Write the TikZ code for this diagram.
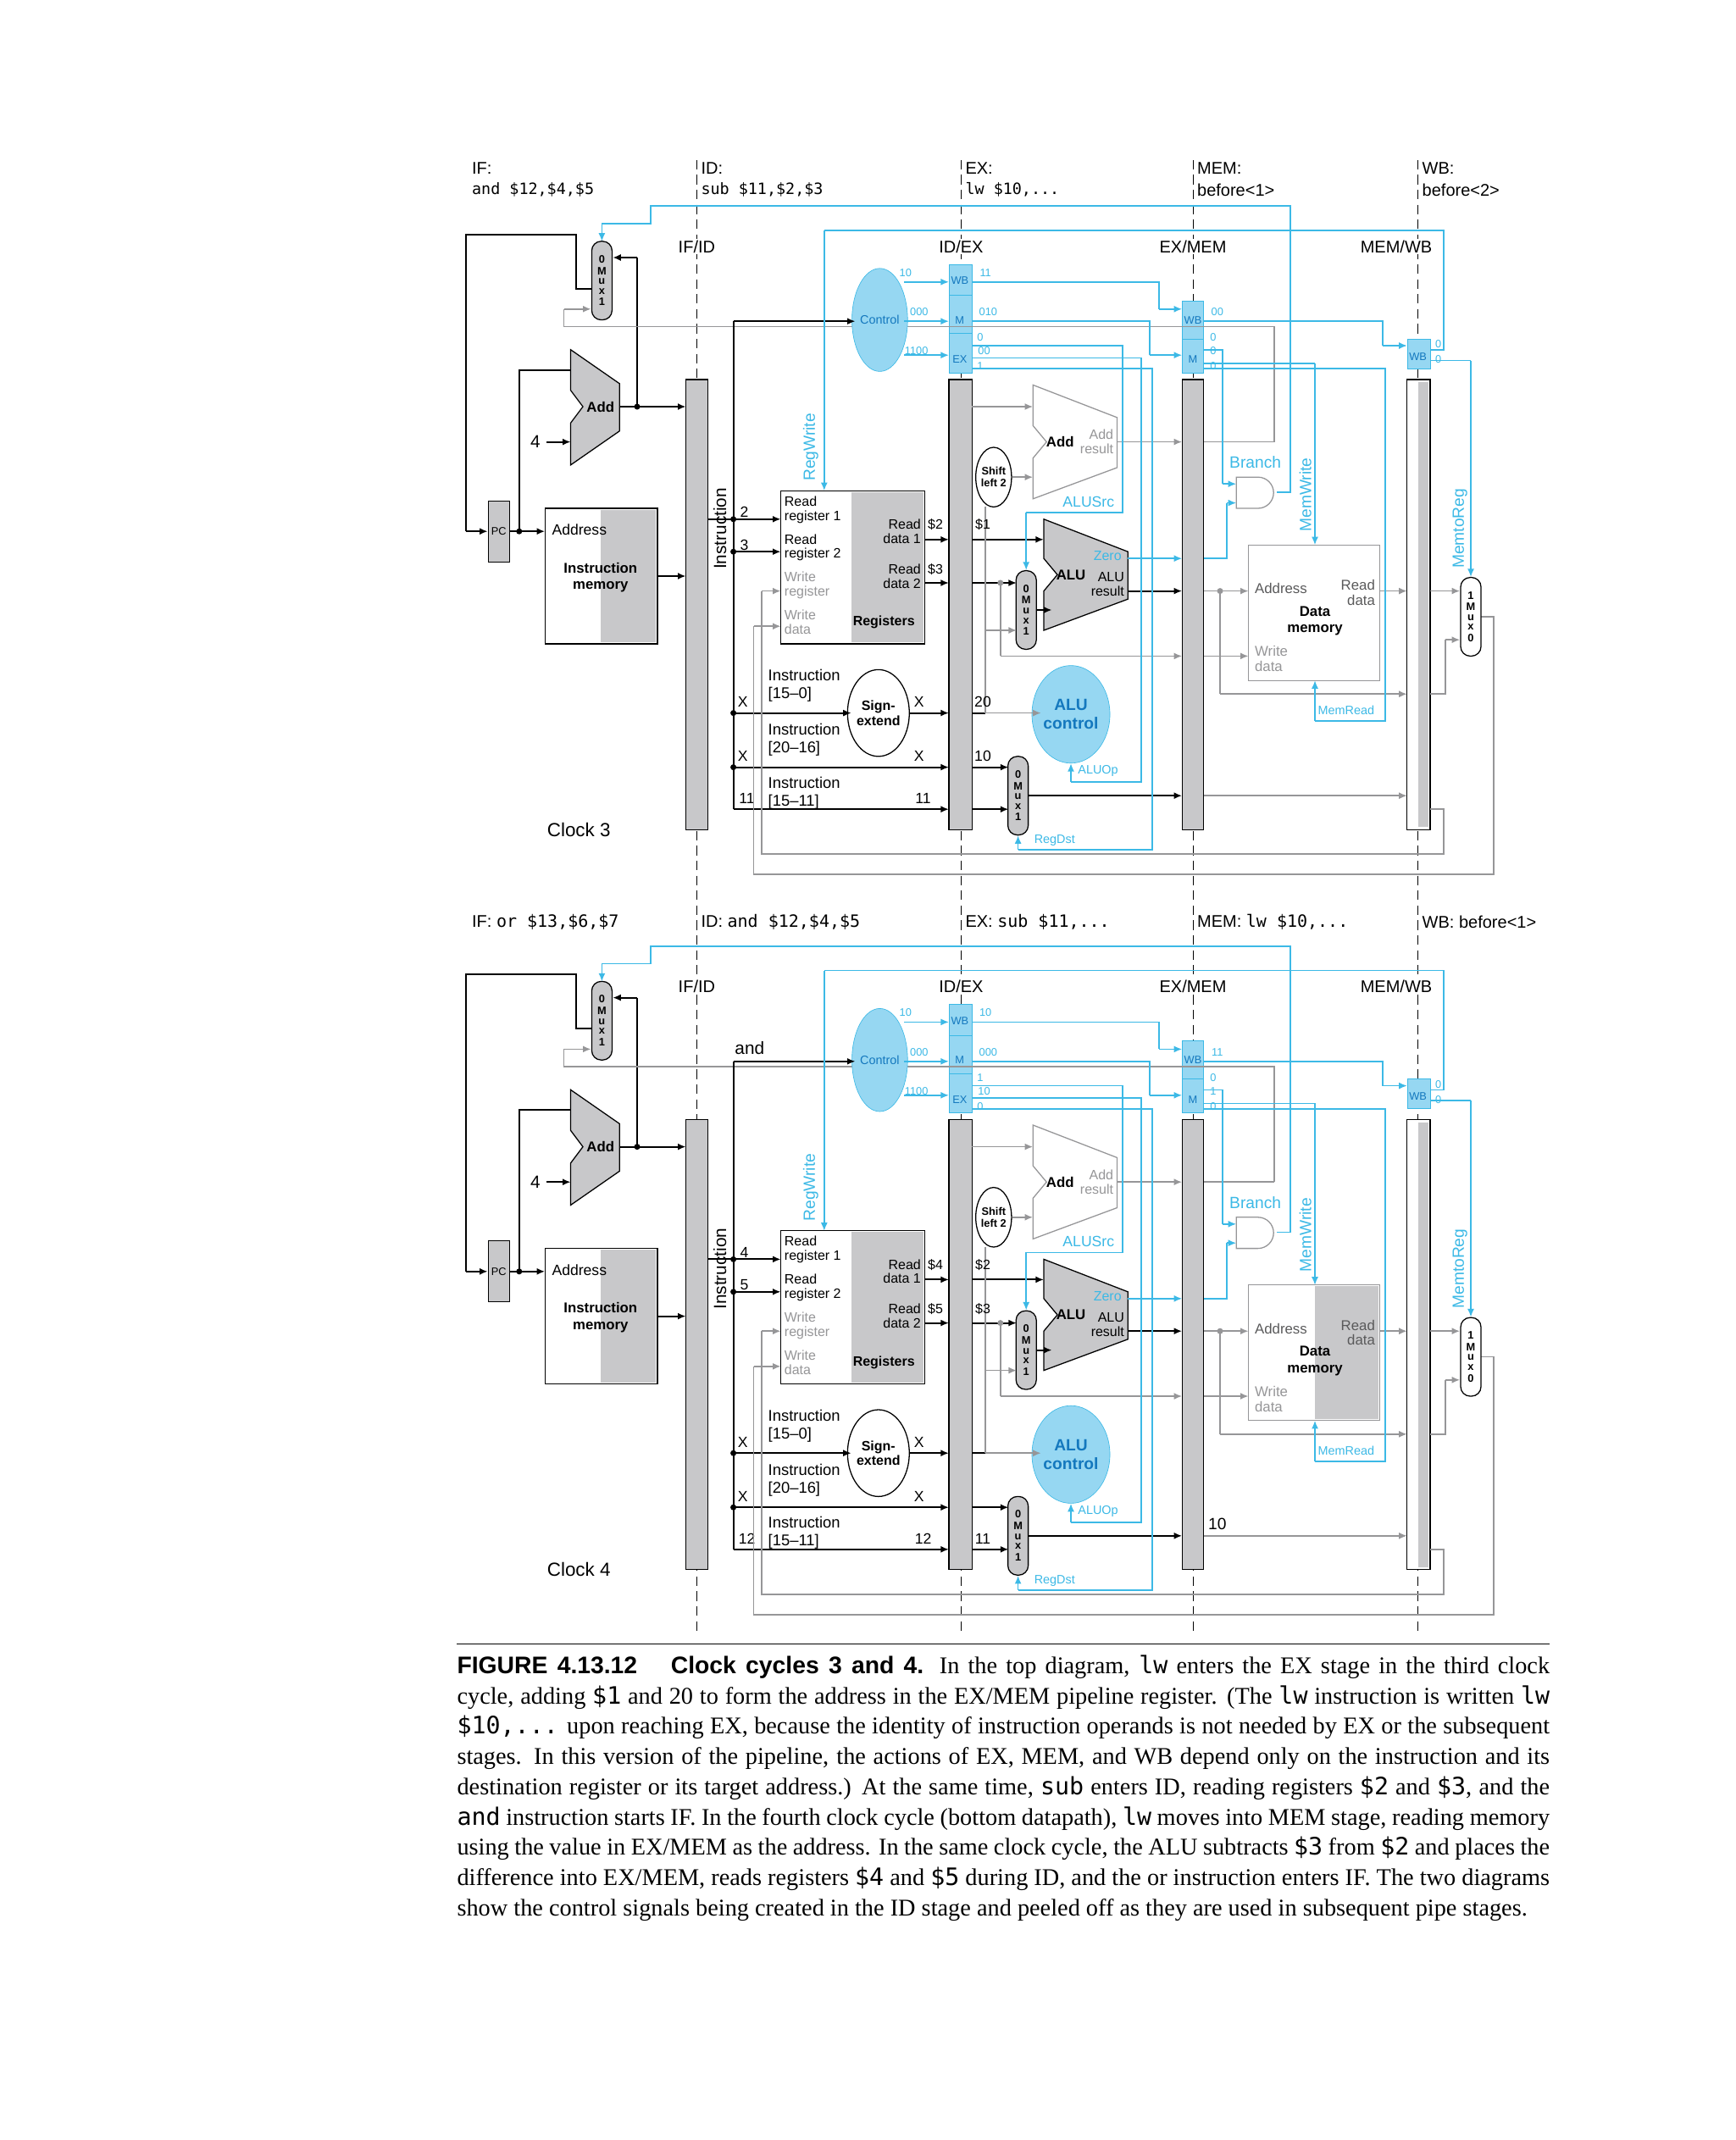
\documentclass[tikz,border=0pt]{standalone}
\usepackage{fontspec}
\setmainfont{Liberation Serif}
\setsansfont{Liberation Sans}
\setmonofont{DejaVu Sans Mono}
\usetikzlibrary{arrows.meta,shapes.geometric}
\definecolor{cy}{RGB}{60,185,230}
\definecolor{cyl}{RGB}{150,215,242}
\definecolor{cyt}{RGB}{20,120,190}
\definecolor{gf}{RGB}{200,200,202}
\definecolor{gl}{RGB}{150,150,152}
\tikzset{
 bw/.style={line width=1.3pt,-{Latex[length=6pt,width=5pt]}},
 bl/.style={line width=1.3pt},
 gw/.style={line width=1.1pt,gl,-{Latex[length=6pt,width=5pt]}},
 gln/.style={line width=1.1pt,gl},
 cw/.style={line width=1pt,cy,-{Latex[length=6pt,width=5pt]}},
 cln/.style={line width=1pt,cy},
 lab/.style={font=\sffamily\fontsize{11}{12}\selectfont,inner sep=1pt},
 sl/.style={font=\sffamily\fontsize{8}{9}\selectfont,inner sep=0.5pt},
 cl/.style={font=\sffamily\fontsize{8}{9}\selectfont,inner sep=0.5pt,cy},
 muxs/.style={draw,fill=gf,rounded corners=7pt,minimum width=15pt,minimum height=58pt,inner sep=0pt,font=\sffamily\bfseries\fontsize{8}{8.5}\selectfont,line width=0.8pt},
 stg/.style={font=\sffamily\fontsize{12.5}{14}\selectfont,anchor=west,inner sep=0pt},
 pr/.style={font=\sffamily\fontsize{12.5}{14}\selectfont,inner sep=0pt},
}
\newcommand\muxnode[4]{\node[muxs] (#1) at (#2) {\shortstack{#3\\M\\u\\x\\#4}};}
\newcommand\panel{%
 \node[pr,fill=white,inner sep=1pt] (pifid) at (514,182) {IF/ID};
 \node[pr,fill=white,inner sep=1pt] (pidex) at (709,182) {ID/EX};
 \node[pr,fill=white,inner sep=1pt] (pexm) at (880,182) {EX/MEM};
 \node[pr,fill=white,inner sep=1pt] (pmwb) at (1030,182) {MEM/WB};
 \draw[fill=gf,line width=0.8pt] (506,280) rectangle (522,612);
 \draw[fill=gf,line width=0.8pt] (700,280) rectangle (717,612);
 \draw[fill=gf,line width=0.8pt] (872,280) rectangle (888,612);
 \draw[fill=white,line width=0.8pt] (1038,280) rectangle (1055,612);
 \fill[gf] (1046,282) rectangle (1054,610);
 \draw[fill=cyl,draw=cy] (700,195) rectangle (717,275);
 \draw[cy] (700,218)--(717,218) (700,246)--(717,246);
 \node[sl,cyt] at (708,207) {WB}; \node[sl,cyt] at (708,236) {M}; \node[sl,cyt] at (708,265) {EX};
 \draw[fill=cyl,draw=cy] (872,222) rectangle (888,275);
 \draw[cy] (872,250)--(888,250);
 \node[sl,cyt] at (880,236) {WB}; \node[sl,cyt] at (880,265) {M};
 \draw[fill=cyl,draw=cy] (1038,250) rectangle (1055,272);
 \node[sl,cyt] at (1046,263) {WB};
 \node[lab,rotate=90,font=\sffamily\fontsize{13}{14}\selectfont] (instrlab) at (531,390) {Instruction};
 \node[draw,fill=gf,minimum width=16pt,minimum height=45pt,inner sep=0pt,font=\sffamily\fontsize{8}{9}\selectfont] (pc) at (368,392) {PC};
 \draw[line width=0.8pt] (402,375) rectangle (485,475);
 \fill[gf] (443,376) rectangle (484,474);
 \node[lab,anchor=west] (imaddr) at (406,391) {Address};
 \node[lab,font=\sffamily\bfseries\fontsize{10.5}{12}\selectfont,align=center] (im) at (443,426) {Instruction\\memory};
 \draw[fill=gf,line width=0.8pt] (421,258)--(457,283)--(457,318)--(421,343)--(421,312)--(430,300)--(421,288)--cycle;
 \node[lab,font=\sffamily\bfseries\fontsize{10.5}{12}\selectfont] (ifadd) at (443,300) {Add};
 \node[lab,font=\sffamily\fontsize{13}{14}\selectfont] (four) at (395,326) {4};
 \muxnode{ifmux}{444,207}{0}{1}
 \draw[bw] (pc.east)--(402,392);
 \draw[bl] (383,392)--(383,273)--(421,273);
 \draw[bw] (403,326)--(421,326);
 \draw[bl] (436,213)--(425,213)--(425,173)--(344,173)--(344,392);
 \draw[bw] (344,392)--(pc.west);
 \draw[bw] (457,300)--(506,300);
 \draw[bl] (470,300)--(470,190);
 \draw[bw] (470,190)--(452,190);
 \fill (470,300) circle (2.2pt) (383,392) circle (2.2pt);
 \draw[gln] (940,326)--(940,241)--(416,241)--(416,228);
 \draw[gw] (416,228)--(436,228);
 \draw[cln] (942,363)--(952,363)--(952,152)--(480,152)--(480,165)--(444,165);
 \draw[cw] (444,165)--(444,178);
 \draw[bw] (485,425)--(506,425);
 \draw[line width=0.8pt] (576,362) rectangle (682,475);
 \fill[gf] (628,363) rectangle (681,474);
 \node[sl,anchor=west,align=left,font=\sffamily\fontsize{10}{10.5}\selectfont] at (578,376) {Read\\register 1};
 \node[sl,anchor=west,align=left,font=\sffamily\fontsize{10}{10.5}\selectfont] at (578,404) {Read\\register 2};
 \node[sl,anchor=west,align=left,font=\sffamily\fontsize{10}{10.5}\selectfont,gl] at (578,432) {Write\\register};
 \node[sl,anchor=west,align=left,font=\sffamily\fontsize{10}{10.5}\selectfont,gl] at (578,459) {Write\\data};
 \node[sl,anchor=east,align=right,font=\sffamily\fontsize{10}{10.5}\selectfont] at (680,392) {Read\\data 1};
 \node[sl,anchor=east,align=right,font=\sffamily\fontsize{10}{10.5}\selectfont] at (680,425) {Read\\data 2};
 \node[sl,font=\sffamily\bfseries\fontsize{10}{11}\selectfont] (regs) at (652,459) {Registers};
 \node[draw,ellipse,fill=white,minimum width=40pt,minimum height=64pt,inner sep=0pt,align=center,font=\sffamily\bfseries\fontsize{10}{11}\selectfont,line width=0.8pt] (se) at (648,526) {Sign-\\extend};
 \node[draw=cy,ellipse,fill=cyl,minimum width=36pt,minimum height=76pt,inner sep=0pt,font=\sffamily\fontsize{9}{10}\selectfont,text=cyt] (ctrl) at (649,236) {Control};
 \draw[bl] (522,383)--(541,383);
 \draw[bl] (541,237)--(541,597);
 \draw[bw] (541,237)--(631,237);
 \draw[bw] (541,383)--(576,383);
 \draw[bw] (541,407)--(576,407);
 \draw[bw] (541,526)--(628,526);
 \draw[bw] (541,566)--(700,566);
 \draw[bw] (541,597)--(700,597);
 \foreach \yy in {383,407,526,566} \fill (541,\yy) circle (2.2pt);
 \node[sl,anchor=west,align=left,font=\sffamily\fontsize{11.5}{13}\selectfont] at (566,506) {Instruction\\{}[15--0]};
 \node[sl,anchor=west,align=left,font=\sffamily\fontsize{11.5}{13}\selectfont] at (566,546) {Instruction\\{}[20--16]};
 \node[sl,anchor=west,align=left,font=\sffamily\fontsize{11.5}{13}\selectfont] at (566,585) {Instruction\\{}[15--11]};
 \node[lab] at (549,378) {\rA}; \node[lab] at (549,402) {\rB};
 \node[lab] at (548,518) {X}; \node[lab] at (548,558) {X}; \node[lab] at (551,589) {\rC};
 \node[lab] at (678,518) {X}; \node[lab] at (678,558) {X}; \node[lab] at (681,589) {\rC};
 \draw[bw] (682,398)--(700,398); \draw[bw] (682,430)--(700,430);
 \draw[bw] (se.east)--(700,526);
 \node[sl,font=\sffamily\fontsize{10}{11}\selectfont] at (690,387) {\dA};
 \node[sl,font=\sffamily\fontsize{10}{11}\selectfont] at (690,420) {\dB};
 \draw[gln] (1092,455)--(1102,455)--(1102,645)--(556,645)--(556,462);
 \draw[gw] (556,462)--(576,462);
 \draw[gln] (1055,597)--(1065,597)--(1065,630)--(562,630)--(562,436);
 \draw[gw] (562,436)--(576,436);
 \draw[cw] (667,208)--(700,208); \draw[cw] (667,237)--(700,237); \draw[cw] (667,262)--(700,262);
 \node[cl] at (668,201) {10}; \node[cl] at (678,230) {000}; \node[cl] at (676,259) {1100};
 \node[lab,font=\sffamily\fontsize{12}{13}\selectfont,rotate=90,cy] at (598,330) {RegWrite};
 \draw[cln] (1055,258)--(1065,258)--(1065,170)--(608,170);
 \draw[cw] (608,170)--(608,362);
 \node[draw,ellipse,fill=white,minimum width=26pt,minimum height=44pt,inner sep=0pt,align=center,font=\sffamily\bfseries\fontsize{8}{9}\selectfont,line width=0.8pt] (sl2) at (733,352) {Shift\\left 2};
 \draw[fill=white,draw=gl,line width=0.8pt] (762,284)--(824,308)--(824,345)--(762,368)--(762,338)--(772,326)--(762,314)--cycle;
 \node[lab,font=\sffamily\bfseries\fontsize{10.5}{12}\selectfont] (exadd) at (782,326) {Add};
 \node[sl,align=right,anchor=east,gl,font=\sffamily\fontsize{10}{10.5}\selectfont] at (822,326) {Add\\result};
 \draw[fill=gf,line width=0.8pt] (770,383)--(832,407)--(832,442)--(770,465)--(770,436)--(780,424)--(770,412)--cycle;
 \node[lab,font=\sffamily\bfseries\fontsize{10.5}{12}\selectfont] (alu) at (790,424) {ALU};
 \node[sl,align=right,anchor=east,font=\sffamily\fontsize{10}{10.5}\selectfont] at (830,431) {ALU\\result};
 \node[sl,cy,font=\sffamily\fontsize{10}{10.5}\selectfont] at (817,410) {Zero};
 \muxnode{alumux}{757,450}{0}{1}
 \node[draw=cy,ellipse,fill=cyl,minimum width=44pt,minimum height=72pt,inner sep=0pt,align=center,font=\sffamily\bfseries\fontsize{12}{14}\selectfont,text=cyt] (aluc) at (790,527) {ALU\\control};
 \muxnode{rdmux}{751,587}{0}{1}
 \draw[gw] (717,300)--(762,300);
 \draw[bw] (717,398)--(770,398);
 \draw[bw] (717,430)--(750,430);
 \draw[gln] (738,430)--(738,484);
 \draw[gw] (738,484)--(872,484);
 \fill[gl] (738,430) circle (2.2pt);
 \draw[bl] (717,526)--(727,526);
 \draw[gln] (727,526)--(727,374);
 \draw[gw] (727,465)--(750,465);
 \draw[gw] (727,526)--(768,526);
 \draw[gw] (sl2.east)--(762,352);
 \draw[gw] (824,326)--(872,326);
 \draw[bw] (765,450)--(776,450);
 \draw[bw] (832,436)--(872,436);
 \draw[cw] (832,412)--(872,412);
 \draw[bw] (717,566)--(744,566);
 \draw[bw] (717,597)--(744,597);
 \draw[bw] (759,587)--(872,587);
 \node[sl,font=\sffamily\fontsize{10}{11}\selectfont] at (725,387) {\eA};
 \node[sl,font=\sffamily\fontsize{10}{11}\selectfont] at (725,420) {\eB};
 \node[lab] at (725,518) {\eC}; \node[lab] at (725,558) {\eD}; \node[lab] at (725,589) {\eE};
 \draw[cln] (717,208)--(855,208)--(855,228); \draw[cw] (855,228)--(872,228);
 \draw[cln] (717,237)--(848,237)--(848,262); \draw[cw] (848,262)--(872,262);
 \draw[cln] (717,255)--(828,255)--(828,378)--(757,378); \draw[cw] (757,378)--(alumux.north);
 \draw[cln] (717,264)--(842,264)--(842,577)--(790,577); \draw[cw] (790,577)--(aluc.south);
 \draw[cln] (717,272)--(850,272)--(850,627)--(751,627); \draw[cw] (751,627)--(rdmux.south);
 \node[cl] at (727,201) {\cA}; \node[cl] at (729,230) {\cB}; \node[cl] at (723,249) {\cC}; \node[cl] at (726,259) {\cD}; \node[cl] at (723,270) {\cE};
 \node[lab,cy] at (803,370) {ALUSrc};
 \node[sl,cy,font=\sffamily\fontsize{9}{10}\selectfont] at (810,569) {ALUOp};
 \node[sl,cy,font=\sffamily\fontsize{9}{10}\selectfont] at (778,620) {RegDst};
 \draw[line width=0.8pt,draw=gl] (921,402) rectangle (1018,502);
 \dmfill
 \node[sl,anchor=west,font=\sffamily\fontsize{10.5}{11}\selectfont,gl!60!black] at (925,434) {Address};
 \node[sl,align=right,anchor=east,font=\sffamily\fontsize{10.5}{11}\selectfont,gl!60!black] at (1015,437) {Read\\data};
 \node[sl,align=center,font=\sffamily\bfseries\fontsize{10.5}{12}\selectfont] (dm) at (970,458) {Data\\memory};
 \node[sl,align=left,anchor=west,gl,font=\sffamily\fontsize{10.5}{11}\selectfont] at (925,486) {Write\\data};
 \draw[fill=white,line width=0.8pt,draw=gl] (912,352)--(928,352) arc (-90:90:11.5)--(912,375)--cycle;
 \node[lab,cy,font=\sffamily\fontsize{12}{13}\selectfont] at (926,341) {Branch};
 \draw[gw] (888,436)--(921,436);
 \draw[gln] (900,436)--(900,512);
 \draw[gw] (900,512)--(1038,512);
 \fill[gl] (900,436) circle (2.2pt);
 \draw[gw] (888,484)--(921,484);
 \draw[gw] (888,587)--(1038,587);
 \draw[gw] (1018,436)--(1038,436);
 \draw[gln] (888,326)--(940,326);
 \draw[cln] (888,412)--(905,412)--(905,371); \draw[cw] (905,371)--(912,371);
 \draw[cln] (888,258)--(902,258)--(902,357); \draw[cw] (902,357)--(912,357);
 \draw[cln] (888,268)--(970,268); \draw[cw] (970,268)--(970,402);
 \draw[cln] (888,272)--(1022,272)--(1022,532)--(970,532); \draw[cw] (970,532)--(970,502);
 \node[lab,cy,rotate=90,font=\sffamily\fontsize{12}{13}\selectfont] at (963,365) {MemWrite};
 \node[sl,cy,font=\sffamily\fontsize{9}{10}\selectfont] at (993,524) {MemRead};
 \draw[cln] (888,237)--(1020,237)--(1020,255); \draw[cw] (1020,255)--(1038,255);
 \node[cl] at (898,230) {\mA}; \node[cl] at (895,249) {\mB}; \node[cl] at (895,259) {\mC}; \node[cl] at (895,270) {\mD};
 \node[cl] at (1061,254) {0}; \node[cl] at (1061,265) {0};
 \node[muxs,fill=white] (wbmux) at (1085,455) {\shortstack{1\\M\\u\\x\\0}};
 \draw[cln] (1055,266)--(1085,266); \draw[cw] (1085,266)--(wbmux.north);
 \node[lab,cy,rotate=90,font=\sffamily\fontsize{12}{13}\selectfont] at (1077,390) {MemtoReg};
 \draw[gw] (1055,436)--(1077,436);
 \draw[gln] (1055,512)--(1066,512)--(1066,472); \draw[gw] (1066,472)--(1077,472);
}
\begin{document}
\begin{tikzpicture}[x=1pt,y=-1pt]
\useasboundingbox (0,0) rectangle (1280,1578.75);
\fill[white] (0,0) rectangle (1280,1578.75);
\foreach \xx in {514,709,880,1046} \draw[dash pattern=on 7pt off 4pt,line width=0.6pt] (\xx,118)--(\xx,1205);
\node[stg] (h1) at (348,124) {IF:};
\node[stg,font=\ttfamily\fontsize{11.5}{13}\selectfont] at (348,140) {and \$12,\$4,\$5};
\node[stg] (h2) at (517,124) {ID:};
\node[stg,font=\ttfamily\fontsize{11.5}{13}\selectfont] at (517,140) {sub \$11,\$2,\$3};
\node[stg] (h3) at (712,124) {EX:};
\node[stg,font=\ttfamily\fontsize{11.5}{13}\selectfont] at (712,140) {lw \$10,...};
\node[stg] (h4) at (883,124) {MEM:};
\node[stg] at (883,140) {before<1>};
\node[stg] (h5) at (1049,124) {WB:};
\node[stg] at (1049,140) {before<2>};
\node[stg] (b1) at (348,680) {IF: {\ttfamily or \$13,\$6,\$7}};
\node[stg] (b2) at (517,680) {ID: {\ttfamily and \$12,\$4,\$5}};
\node[stg] (b3) at (712,680) {EX: {\ttfamily sub \$11,...}};
\node[stg] (b4) at (883,680) {MEM: {\ttfamily lw \$10,...}};
\node[stg] (b5) at (1049,680) {WB: before<1>};
\def\rA{2}\def\rB{3}\def\rC{11}\def\dA{\$2}\def\dB{\$3}
\def\eA{\$1}\def\eB{}\def\eC{20}\def\eD{10}\def\eE{}
\def\cA{11}\def\cB{010}\def\cC{0}\def\cD{00}\def\cE{1}
\def\mA{00}\def\mB{0}\def\mC{0}\def\mD{0}
\def\dmfill{}
\begin{scope}[name prefix=t-]
\panel
\node[lab,font=\sffamily\fontsize{14}{15}\selectfont] (clk3) at (427,612) {Clock 3};
\end{scope}
\def\rA{4}\def\rB{5}\def\rC{12}\def\dA{\$4}\def\dB{\$5}
\def\eA{\$2}\def\eB{\$3}\def\eC{}\def\eD{}\def\eE{11}
\def\cA{10}\def\cB{000}\def\cC{1}\def\cD{10}\def\cE{0}
\def\mA{11}\def\mB{0}\def\mC{1}\def\mD{0}
\def\dmfill{\fill[gf] (970,403) rectangle (1017,501);}
\begin{scope}[shift={(0,546)},name prefix=b-]
\panel
\node[lab,font=\sffamily\fontsize{14}{15}\selectfont] (clk4) at (427,612) {Clock 4};
\node[lab,font=\sffamily\fontsize{13}{14}\selectfont] (andl) at (553,227) {and};
\node[lab,font=\sffamily\fontsize{12}{13}\selectfont] (ten) at (898,578) {10};
\end{scope}
\draw[line width=0.8pt] (337,1213)--(1143,1213);
\node[anchor=north west,inner sep=0pt,text width=806pt,align=justify,font=\fontsize{17.7}{22.3}\selectfont] (cap) at (337,1221)
{{\sffamily\bfseries FIGURE 4.13.12\quad\ Clock cycles 3 and 4.} In the top diagram, {\ttfamily lw} enters the EX stage in the third clock cycle, adding {\ttfamily\$1} and 20 to form the address in the EX/MEM pipeline register. (The {\ttfamily lw} instruction is written {\ttfamily lw \$10,...} upon reaching EX, because the identity of instruction operands is not needed by EX or the subsequent stages. In this version of the pipeline, the actions of EX, MEM, and WB depend only on the instruction and its destination register or its target address.) At the same time, {\ttfamily sub} enters ID, reading registers {\ttfamily\$2} and {\ttfamily\$3}, and the {\ttfamily and} instruction starts IF. In the fourth clock cycle (bottom datapath), {\ttfamily lw} moves into MEM stage, reading memory using the value in EX/MEM as the address. In the same clock cycle, the ALU subtracts {\ttfamily\$3} from {\ttfamily\$2} and places the difference into EX/MEM, reads registers {\ttfamily\$4} and {\ttfamily\$5} during ID, and the or instruction enters IF. The two diagrams show the control signals being created in the ID stage and peeled off as they are used in subsequent pipe stages.};
\end{tikzpicture}
\end{document}
